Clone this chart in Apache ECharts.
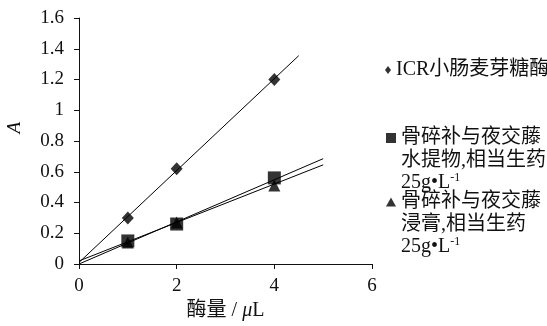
<!DOCTYPE html>
<html><head><meta charset="utf-8">
<script src="https://cdn.jsdelivr.net/npm/echarts@6/dist/echarts.min.js"></script>
<style>html,body{margin:0;padding:0;background:#fff}#c{width:547px;height:326px}</style>
</head><body><div id="c"></div>
<script>
// ---- data ----
var seriesNames = ['ICR小肠麦芽糖酶', '骨碎补与夜交藤水提物', '骨碎补与夜交藤浸膏'];
var legendLines = [
  ['ICR小肠麦芽糖酶'],
  ['骨碎补与夜交藤', '水提物,相当生药', '25g\u2022L{sup|-1}'],
  ['骨碎补与夜交藤', '浸膏,相当生药', '25g\u2022L{sup|-1}']
];
var diamondPts = [[1, 0.30], [2, 0.62], [4, 1.20]];
var squarePts = [[1, 0.15], [2, 0.26], [4, 0.56]];
var trianglePts = [[1, 0.14], [2, 0.27], [4, 0.51]];
var diamondTrend = [[0, 0.01], [4.5, 1.355]];
var squareTrend = [[0, 0.0], [5, 0.685]];
var triangleTrend = [[0, 0.02], [5, 0.645]];
var xTicks = [0, 2, 4, 6];
var yTicks = [0, 0.2, 0.4, 0.6, 0.8, 1, 1.2, 1.4, 1.6];
var xName = '酶量 / {i|μ}L';
var yName = 'A';

var serif = "'Liberation Serif', 'Noto Sans CJK SC', serif";
var LH = 22.5;
var chart = echarts.init(document.getElementById('c'), null, {renderer: 'canvas'});

function makeLegend(idx, icon, w, h, left, centerY) {
  var lines = legendLines[idx];
  var n = lines.length;
  var P = (n - 1) * LH;
  return {
    data: [{name: seriesNames[idx], icon: icon}],
    left: left,
    top: centerY - (P + n * LH) / 2,
    padding: 0,
    itemWidth: w,
    itemHeight: h,
    selectedMode: false,
    formatter: function () { return lines.join('\n'); },
    textStyle: {
      fontFamily: serif, fontSize: 20, color: '#111', lineHeight: LH,
      padding: [P, 0, 0, 0],
      rich: {
        sup: {fontFamily: serif, fontSize: 12, lineHeight: 12, verticalAlign: 'top', color: '#111'}
      }
    }
  };
}

var option = {
  animation: false,
  backgroundColor: '#fff',
  grid: {left: 79, right: 175, top: 18, bottom: 57, containLabel: false},
  graphic: [
    {type: 'text', left: 5, top: 122, rotation: Math.PI / 2,
     style: {text: yName, font: 'italic 19px ' + serif, fill: '#111'}}
  ],
  xAxis: {
    type: 'value', min: xTicks[0], max: xTicks[xTicks.length - 1], interval: 2,
    name: xName, nameLocation: 'middle', nameGap: 37,
    nameTextStyle: {fontFamily: serif, fontSize: 20, color: '#111',
      rich: {i: {fontFamily: serif, fontStyle: 'italic', fontSize: 20, color: '#111'}}},
    axisLine: {lineStyle: {color: '#111', width: 1}},
    axisTick: {show: true, length: 5, lineStyle: {color: '#111'}},
    axisLabel: {fontFamily: serif, fontSize: 19, color: '#111', margin: 13},
    splitLine: {show: false}
  },
  yAxis: {
    type: 'value', min: yTicks[0], max: yTicks[yTicks.length - 1], interval: 0.2,
    axisLine: {show: true, lineStyle: {color: '#111', width: 1}},
    axisTick: {show: true, length: 5, lineStyle: {color: '#111'}},
    axisLabel: {fontFamily: serif, fontSize: 19, color: '#111', margin: 15},
    splitLine: {show: false}
  },
  legend: [
    makeLegend(0, 'diamond', 6, 8, 385, 70),
    makeLegend(1, 'rect', 10, 10, 386, 138),
    makeLegend(2, 'triangle', 10, 9, 386, 202)
  ],
  series: [
    {name: seriesNames[0], type: 'scatter', symbol: 'diamond', symbolSize: [12, 13], data: diamondPts, itemStyle: {color: '#000'}, z: 5},
    {name: seriesNames[1], type: 'scatter', symbol: 'rect', symbolSize: 13, data: squarePts, itemStyle: {color: '#000'}, z: 5},
    {name: seriesNames[2], type: 'scatter', symbol: 'triangle', symbolSize: 12, data: trianglePts, itemStyle: {color: '#000'}, z: 4},
    {type: 'line', data: diamondTrend, showSymbol: false, symbol: 'none', lineStyle: {color: '#000', width: 1}, z: 3},
    {type: 'line', data: squareTrend, showSymbol: false, symbol: 'none', lineStyle: {color: '#000', width: 1}, z: 3},
    {type: 'line', data: triangleTrend, showSymbol: false, symbol: 'none', lineStyle: {color: '#000', width: 1}, z: 3}
  ]
};
chart.setOption(option);
</script></body></html>
